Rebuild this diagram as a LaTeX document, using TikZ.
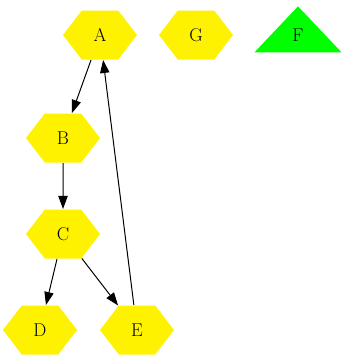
\documentclass[tikz,border=0pt]{standalone}
\usetikzlibrary{arrows.meta,shapes.symbols,shapes.geometric}

\begin{document}
\begin{tikzpicture}[x=1pt,y=-1pt,>={Triangle[length=13pt,width=9.3pt]},line width=1pt,
  hexnode/.style={signal,signal to=west and east,signal pointer angle=105,fill=yellow,
    minimum width=74pt,minimum height=49pt,inner sep=0pt,font=\fontsize{18.5}{22}\selectfont},
  trinode/.style={isosceles triangle,shape border rotate=90,isosceles triangle stretches,
    fill=green,minimum width=87pt,minimum height=46pt,inner sep=0pt,font=\fontsize{18.5}{22}\selectfont}]
\useasboundingbox (0,0) rectangle (347,360);
\node[hexnode] (a) at (100,35) {A};
\node[hexnode] (g) at (196,35) {G};
\node[trinode,anchor=apex] (f) at (298,5) {F};
\node[hexnode] (b) at (63,138) {B};
\node[hexnode] (c) at (63,234) {C};
\node[hexnode] (d) at (40,330) {D};
\node[hexnode] (e) at (137,330) {E};
\draw[->] (a) -- (b);
\draw[->] (b) -- (c);
\draw[->] (c) -- (d);
\draw[->] (c) -- (e);
\draw[->] (e) -- (a);
\end{tikzpicture}
\end{document}
